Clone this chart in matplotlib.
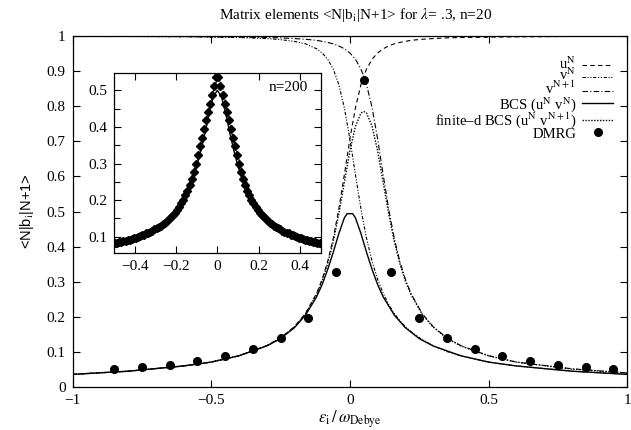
import numpy as np
import matplotlib
matplotlib.use("Agg")
import matplotlib.pyplot as plt
from matplotlib.ticker import FixedLocator, MultipleLocator, FuncFormatter

plt.rcParams['font.family'] = ['Liberation Serif', 'DejaVu Serif']
plt.rcParams['mathtext.fontset'] = 'stix'
plt.rcParams['axes.linewidth'] = 0.9

# ---- main panel, n=20 ----
eps_main = [-1.0, -0.8, -0.6, -0.5, -0.4, -0.3, -0.25, -0.2, -0.16, -0.12, -0.1, -0.08,
            -0.06, -0.04, -0.02, 0.0, 0.02, 0.04, 0.05, 0.06, 0.08, 0.1, 0.12, 0.14,
            0.16, 0.18, 0.2, 0.22, 0.26, 0.3, 0.35, 0.4, 0.5, 0.6, 0.8, 1.0]
u_N = [0.036, 0.045, 0.060, 0.071, 0.089, 0.118, 0.140, 0.172, 0.210, 0.267, 0.307, 0.358,
       0.424, 0.507, 0.605, 0.707, 0.796, 0.862, 0.886, 0.906, 0.934, 0.952, 0.964, 0.972,
       0.978, 0.982, 0.985, 0.988, 0.991, 0.993, 0.995, 0.996, 0.997, 0.998, 0.999, 0.999]
v_N = [0.999, 0.999, 0.998, 0.997, 0.996, 0.993, 0.990, 0.985, 0.978, 0.964, 0.952, 0.934,
       0.906, 0.862, 0.796, 0.707, 0.605, 0.507, 0.464, 0.424, 0.358, 0.307, 0.267, 0.235,
       0.210, 0.189, 0.172, 0.158, 0.135, 0.118, 0.101, 0.089, 0.071, 0.060, 0.045, 0.036]
v_N1 = [0.999, 0.999, 0.999, 0.998, 0.997, 0.996, 0.995, 0.993, 0.991, 0.988, 0.985, 0.982,
        0.978, 0.972, 0.964, 0.952, 0.934, 0.906, 0.886, 0.862, 0.796, 0.707, 0.605, 0.507,
        0.424, 0.358, 0.307, 0.267, 0.210, 0.172, 0.140, 0.118, 0.089, 0.071, 0.052, 0.040]
finite_d = [0.036, 0.045, 0.060, 0.071, 0.089, 0.117, 0.139, 0.171, 0.208, 0.264, 0.302, 0.352,
            0.415, 0.493, 0.583, 0.673, 0.743, 0.781, 0.785, 0.781, 0.743, 0.673, 0.583, 0.493,
            0.415, 0.352, 0.302, 0.264, 0.208, 0.171, 0.139, 0.117, 0.089, 0.071, 0.051, 0.040]

eps_bcs = [-1.0, -0.8, -0.6, -0.5, -0.4, -0.3, -0.25, -0.2, -0.16, -0.12, -0.1, -0.08, -0.06,
           -0.04, -0.02, -0.01, 0.01, 0.02, 0.04, 0.06, 0.08, 0.1, 0.12, 0.16, 0.2, 0.25, 0.3,
           0.4, 0.5, 0.6, 0.8, 1.0]
bcs = [0.036, 0.045, 0.060, 0.071, 0.089, 0.117, 0.138, 0.169, 0.205, 0.257, 0.292, 0.335, 0.384,
       0.437, 0.482, 0.494, 0.494, 0.482, 0.437, 0.384, 0.335, 0.292, 0.257, 0.205, 0.169, 0.138,
       0.117, 0.089, 0.071, 0.060, 0.045, 0.036]

eps_dmrg = [-0.85, -0.75, -0.65, -0.55, -0.45, -0.35, -0.25, -0.15, -0.05, 0.05,
            0.15, 0.25, 0.35, 0.45, 0.55, 0.65, 0.75, 0.85, 0.95]
dmrg = [0.050, 0.056, 0.064, 0.074, 0.088, 0.108, 0.140, 0.198, 0.328, 0.875,
        0.328, 0.198, 0.140, 0.108, 0.088, 0.074, 0.064, 0.056, 0.050]

# ---- inset, n=200 ----
eps_in_bcs = [-0.5, -0.4, -0.35, -0.3, -0.25, -0.2, -0.16, -0.14, -0.12, -0.1, -0.08, -0.06, -0.04,
              -0.02, 0.0, 0.02, 0.04, 0.06, 0.08, 0.1, 0.12, 0.14, 0.16, 0.2, 0.25, 0.3, 0.35,
              0.4, 0.5]
in_bcs = [0.071, 0.089, 0.101, 0.117, 0.138, 0.169, 0.205, 0.229, 0.257, 0.292, 0.335, 0.384, 0.437,
          0.482, 0.500, 0.482, 0.437, 0.384, 0.335, 0.292, 0.257, 0.229, 0.205, 0.169, 0.138, 0.117,
          0.101, 0.089, 0.071]
eps_in_fd = [-0.5, -0.4, -0.3, -0.2, -0.15, -0.1, -0.075, -0.055, -0.035, -0.015, 0.005, 0.025,
             0.045, 0.065, 0.085, 0.11, 0.16, 0.21, 0.31, 0.41, 0.5]
in_fd = [0.073, 0.090, 0.118, 0.172, 0.222, 0.300, 0.350, 0.395, 0.452, 0.510, 0.534, 0.510,
         0.452, 0.395, 0.350, 0.300, 0.222, 0.172, 0.118, 0.090, 0.074]

eps_in_dmrg = [
    -0.495, -0.485, -0.475, -0.465, -0.455, -0.445, -0.435, -0.425, -0.415, -0.405,
    -0.395, -0.385, -0.375, -0.365, -0.355, -0.345, -0.335, -0.325, -0.315, -0.305,
    -0.295, -0.285, -0.275, -0.265, -0.255, -0.245, -0.235, -0.225, -0.215, -0.205,
    -0.195, -0.185, -0.175, -0.165, -0.155, -0.145, -0.135, -0.125, -0.115, -0.105,
    -0.095, -0.085, -0.075, -0.065, -0.055, -0.045, -0.035, -0.025, -0.015, -0.005,
    0.005, 0.015, 0.025, 0.035, 0.045, 0.055, 0.065, 0.075, 0.085, 0.095,
    0.105, 0.115, 0.125, 0.135, 0.145, 0.155, 0.165, 0.175, 0.185, 0.195,
    0.205, 0.215, 0.225, 0.235, 0.245, 0.255, 0.265, 0.275, 0.285, 0.295,
    0.305, 0.315, 0.325, 0.335, 0.345, 0.355, 0.365, 0.375, 0.385, 0.395,
    0.405, 0.415, 0.425, 0.435, 0.445, 0.455, 0.465, 0.475, 0.485, 0.495]
in_dmrg = [
    0.082, 0.083, 0.085, 0.086, 0.088, 0.089, 0.091, 0.092, 0.094, 0.096,
    0.098, 0.100, 0.102, 0.104, 0.106, 0.109, 0.111, 0.114, 0.117, 0.120,
    0.123, 0.126, 0.130, 0.134, 0.138, 0.143, 0.148, 0.154, 0.160, 0.166,
    0.174, 0.182, 0.191, 0.201, 0.213, 0.226, 0.241, 0.258, 0.277, 0.298,
    0.322, 0.347, 0.371, 0.395, 0.418, 0.441, 0.463, 0.486, 0.511, 0.536,
    0.536, 0.511, 0.486, 0.463, 0.441, 0.418, 0.395, 0.371, 0.347, 0.322,
    0.298, 0.277, 0.258, 0.241, 0.226, 0.213, 0.201, 0.191, 0.182, 0.174,
    0.166, 0.160, 0.154, 0.148, 0.143, 0.138, 0.134, 0.130, 0.126, 0.123,
    0.120, 0.117, 0.114, 0.111, 0.109, 0.106, 0.104, 0.102, 0.100, 0.098,
    0.096, 0.094, 0.092, 0.091, 0.089, 0.088, 0.086, 0.085, 0.083, 0.082]

main_xticks = [-1, -0.5, 0, 0.5, 1]
main_yticks = [0, 0.1, 0.2, 0.3, 0.4, 0.5, 0.6, 0.7, 0.8, 0.9, 1]
inset_xticks = [-0.4, -0.2, 0, 0.2, 0.4]
inset_yticks = [0.1, 0.2, 0.3, 0.4, 0.5]

legend_labels = [r'u$^{\rm N}$', r'v$^{\rm N}$', r'v$^{\rm N+1}$',
                 r'BCS (u$^{\rm N}$ v$^{\rm N}$)',
                 'finite\u2013d BCS (u$^{\\rm N}$ v$^{\\rm N+1}$)', 'DMRG']


def fmt(v, _):
    s = f'{v:g}'
    return s.replace('-', '\u2212')


fig = plt.figure(figsize=(6.31, 4.30), dpi=100)
ax = fig.add_axes([0.115, 0.1, 0.879, 0.816])

lw = 0.8
styles = [dict(lw=lw, ls=(0, (4, 3))),
          dict(lw=lw, ls=(0, (3, 1.5, 1, 1.5, 1, 1.5))),
          dict(lw=lw, ls=(0, (5, 2, 1, 2))),
          dict(lw=1.0, ls='-'),
          dict(lw=1.0, ls=(0, (1, 1.1)))]

ax.plot(eps_main, u_N, color='black', **styles[0])
ax.plot(eps_main, v_N, color='black', **styles[1])
ax.plot(eps_main, v_N1, color='black', **styles[2])
ax.plot(eps_bcs, bcs, color='black', **styles[3])
ax.plot(eps_main, finite_d, color='black', **styles[4])
ax.plot(eps_dmrg, dmrg, 'o', color='black', ms=5.5, ls='none')

ax.set_xlim(-1, 1)
ax.set_ylim(0, 1)
ax.xaxis.set_major_locator(FixedLocator(main_xticks))
ax.yaxis.set_major_locator(FixedLocator(main_yticks))
ax.xaxis.set_major_formatter(FuncFormatter(fmt))
ax.yaxis.set_major_formatter(FuncFormatter(fmt))
ax.tick_params(direction='in', top=True, right=True, length=5, width=0.8, labelsize=11, pad=5)

ax.set_xlabel(r'$\varepsilon_{\rm i}\, /\, \omega_{\rm Debye}$', fontsize=12, labelpad=1)
ax.set_ylabel(r'<N|b$_{\rm i}$|N+1>', fontsize=10.5, family=['Liberation Sans', 'DejaVu Sans'],
              labelpad=8)
fig.text(0.563, 0.966, r'Matrix elements <N|b$_{\rm i}$|N+1> for $\lambda$= .3, n=20',
         ha='center', va='center', fontsize=11)

# gnuplot-style key: labels right-aligned, sample to the right
key_rows = [0.917, 0.883, 0.844, 0.808, 0.762, 0.727]
key_base = [0.907, 0.874, 0.835, 0.792, 0.748, 0.709]
key_text_x = 0.908
key_line = [0.919, 0.974]
for i, lab in enumerate(legend_labels):
    ax.text(key_text_x, key_base[i], lab, transform=ax.transAxes, ha='right', va='baseline',
            fontsize=10.5)
    if i < 5:
        ax.plot(key_line, [key_rows[i]] * 2, transform=ax.transAxes, color='black', **styles[i])
    else:
        ax.plot([np.mean(key_line)], [key_rows[i]], 'o', transform=ax.transAxes, color='black',
                ms=5.5)

# inset
axi = fig.add_axes([0.181, 0.411, 0.327, 0.42])
axi.set_facecolor('white')
axi.plot(eps_in_bcs, in_bcs, color='black', lw=1.0)
axi.plot(eps_in_fd, in_fd, color='black', lw=1.0, ls=(0, (1, 1.1)))
axi.plot(eps_in_dmrg, in_dmrg, 'D', color='black', ms=4, ls='none')
axi.set_xlim(-0.5, 0.5)
axi.set_ylim(0.055, 0.548)
axi.xaxis.set_major_locator(FixedLocator(inset_xticks))
axi.yaxis.set_major_locator(FixedLocator(inset_yticks))
axi.yaxis.set_minor_locator(MultipleLocator(0.05))
axi.xaxis.set_major_formatter(FuncFormatter(fmt))
axi.yaxis.set_major_formatter(FuncFormatter(fmt))
axi.tick_params(which='both', direction='in', top=True, right=True, labelsize=11, width=0.8)
axi.tick_params(which='major', length=5, pad=5)
axi.tick_params(which='minor', length=4)
axi.text(0.94, 0.92, 'n=200', transform=axi.transAxes, ha='right', va='center', fontsize=11)

fig.savefig('out.png', dpi=100)
